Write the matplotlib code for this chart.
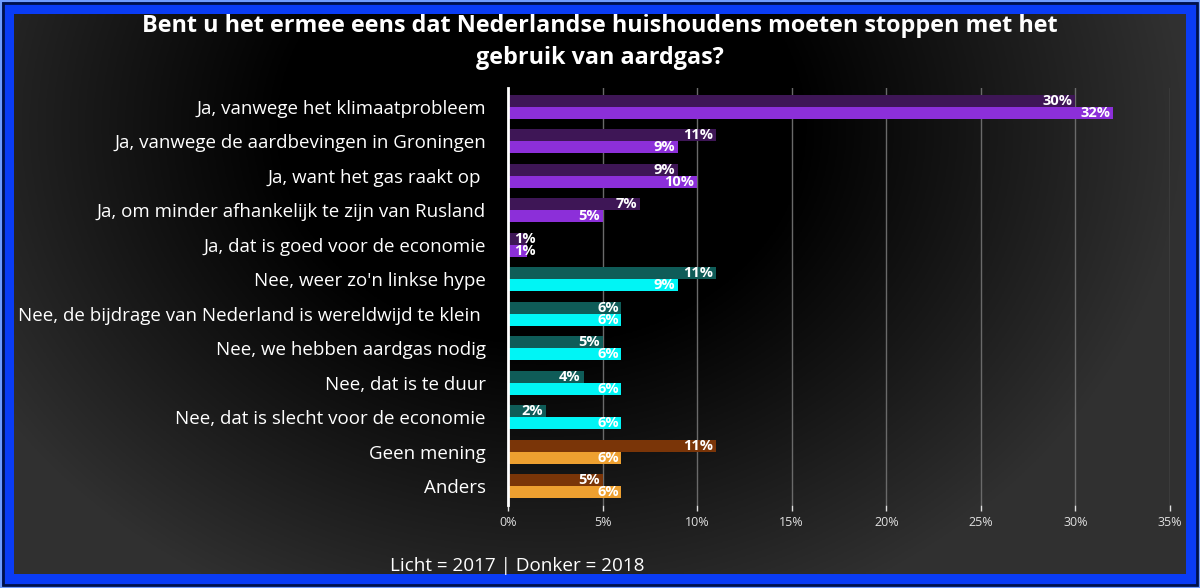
import numpy as np
import matplotlib
matplotlib.use("Agg")
import matplotlib.pyplot as plt
from matplotlib.patches import Rectangle
from matplotlib.ticker import FuncFormatter

# data: donker = 2018, licht = 2017
categories = [
    "Ja, vanwege het klimaatprobleem",
    "Ja, vanwege de aardbevingen in Groningen",
    "Ja, want het gas raakt op ",
    "Ja, om minder afhankelijk te zijn van Rusland",
    "Ja, dat is goed voor de economie",
    "Nee, weer zo'n linkse hype",
    "Nee, de bijdrage van Nederland is wereldwijd te klein ",
    "Nee, we hebben aardgas nodig",
    "Nee, dat is te duur",
    "Nee, dat is slecht voor de economie",
    "Geen mening",
    "Anders",
]
values_2018 = [30, 11, 9, 7, 1, 11, 6, 5, 4, 2, 11, 5]
values_2017 = [32, 9, 10, 5, 1, 9, 6, 6, 6, 6, 6, 6]
groups = ["ja"] * 5 + ["nee"] * 5 + ["overig"] * 2

dark_colors = {"ja": "#3e1656", "nee": "#0f5c58", "overig": "#7a3508"}
light_colors = {"ja": "#8c2fd9", "nee": "#00f5f5", "overig": "#eea030"}

font = "Open Sans"
W, H = 1200, 588
fig = plt.figure(figsize=(W / 100, H / 100), dpi=100)
fig.patch.set_facecolor("#0a3cf5")

# rand
fig.add_artist(Rectangle((0, 0), 1, 1, transform=fig.transFigure, fill=False,
                         edgecolor="#6f9cff", linewidth=3))
fig.add_artist(Rectangle((3 / W, 3 / H), 1 - 6 / W, 1 - 6 / H, transform=fig.transFigure,
                         fill=False, edgecolor="#00114a", linewidth=2))

# achtergrond met verloop
bg = fig.add_axes([14 / W, 14 / H, 1 - 28 / W, 1 - 28 / H])
xx, yy = np.meshgrid(np.linspace(0, 1, 400), np.linspace(0, 1, 200))
r = np.sqrt(((xx - 0.45) / 0.55) ** 2 + ((yy - 0.2) / 0.95) ** 2)
val = 0.19 * np.clip((r - 0.4) / 0.6, 0, 1)
img = np.dstack([val, val, val])
bg.imshow(img, extent=[0, 1, 0, 1], aspect="auto", origin="upper")
bg.axis("off")

ax = fig.add_axes([508 / W, 1 - 505 / H, (1170 - 508) / W, (505 - 88) / H])
ax.set_facecolor("none")

y = np.arange(len(categories))
h = 0.35
ax.barh(y - h / 2, values_2018, height=h,
        color=[dark_colors[g] for g in groups], zorder=3)
ax.barh(y + h / 2, values_2017, height=h,
        color=[light_colors[g] for g in groups], zorder=3)


def put_label(v, ypos):
    if v < 2:
        ax.text(0.3, ypos, f"{v}%", ha="left", va="center", color="white",
                fontsize=10.5, fontweight="bold", family=font, zorder=4)
    else:
        ax.text(v - 0.15, ypos, f"{v}%", ha="right", va="center", color="white",
                fontsize=10.5, fontweight="bold", family=font, zorder=4)


for yi, v in zip(y, values_2018):
    put_label(v, yi - h / 2)
for yi, v in zip(y, values_2017):
    put_label(v, yi + h / 2)

ax.set_xlim(0, 35)
ax.set_ylim(len(categories) - 0.45, -0.55)
ax.set_xticks(np.arange(0, 36, 5))
ax.xaxis.set_major_formatter(FuncFormatter(lambda v, p: f"{int(v)}%"))
ax.set_yticks(y)
ax.set_yticklabels(categories, family=font, fontsize=13.5, color="white")
ax.tick_params(axis="y", length=0, pad=16)
ax.tick_params(axis="x", colors="#e0e0e0", labelsize=9, length=4, width=1, pad=4)
for lab in ax.get_xticklabels():
    lab.set_family(font)
ax.grid(axis="x", color="#6a6a6a", linewidth=1, zorder=0)
for s in ["top", "right", "bottom"]:
    ax.spines[s].set_visible(False)
ax.spines["left"].set_color("white")
ax.spines["left"].set_linewidth(2)
ax.spines["left"].set_zorder(5)

fig.text(0.5, 1 - 26 / H, "Bent u het ermee eens dat Nederlandse huishoudens moeten stoppen met het",
         ha="center", va="center", color="white", fontsize=16.8, fontweight="bold", family=font)
fig.text(0.5, 1 - 58 / H, "gebruik van aardgas?",
         ha="center", va="center", color="white", fontsize=16.8, fontweight="bold", family=font)
fig.text(517 / W, 1 - 566 / H, "Licht = 2017 | Donker = 2018", ha="center", va="center",
         color="white", fontsize=13.6, family=font)

fig.savefig("out.png", dpi=100, facecolor=fig.get_facecolor())
